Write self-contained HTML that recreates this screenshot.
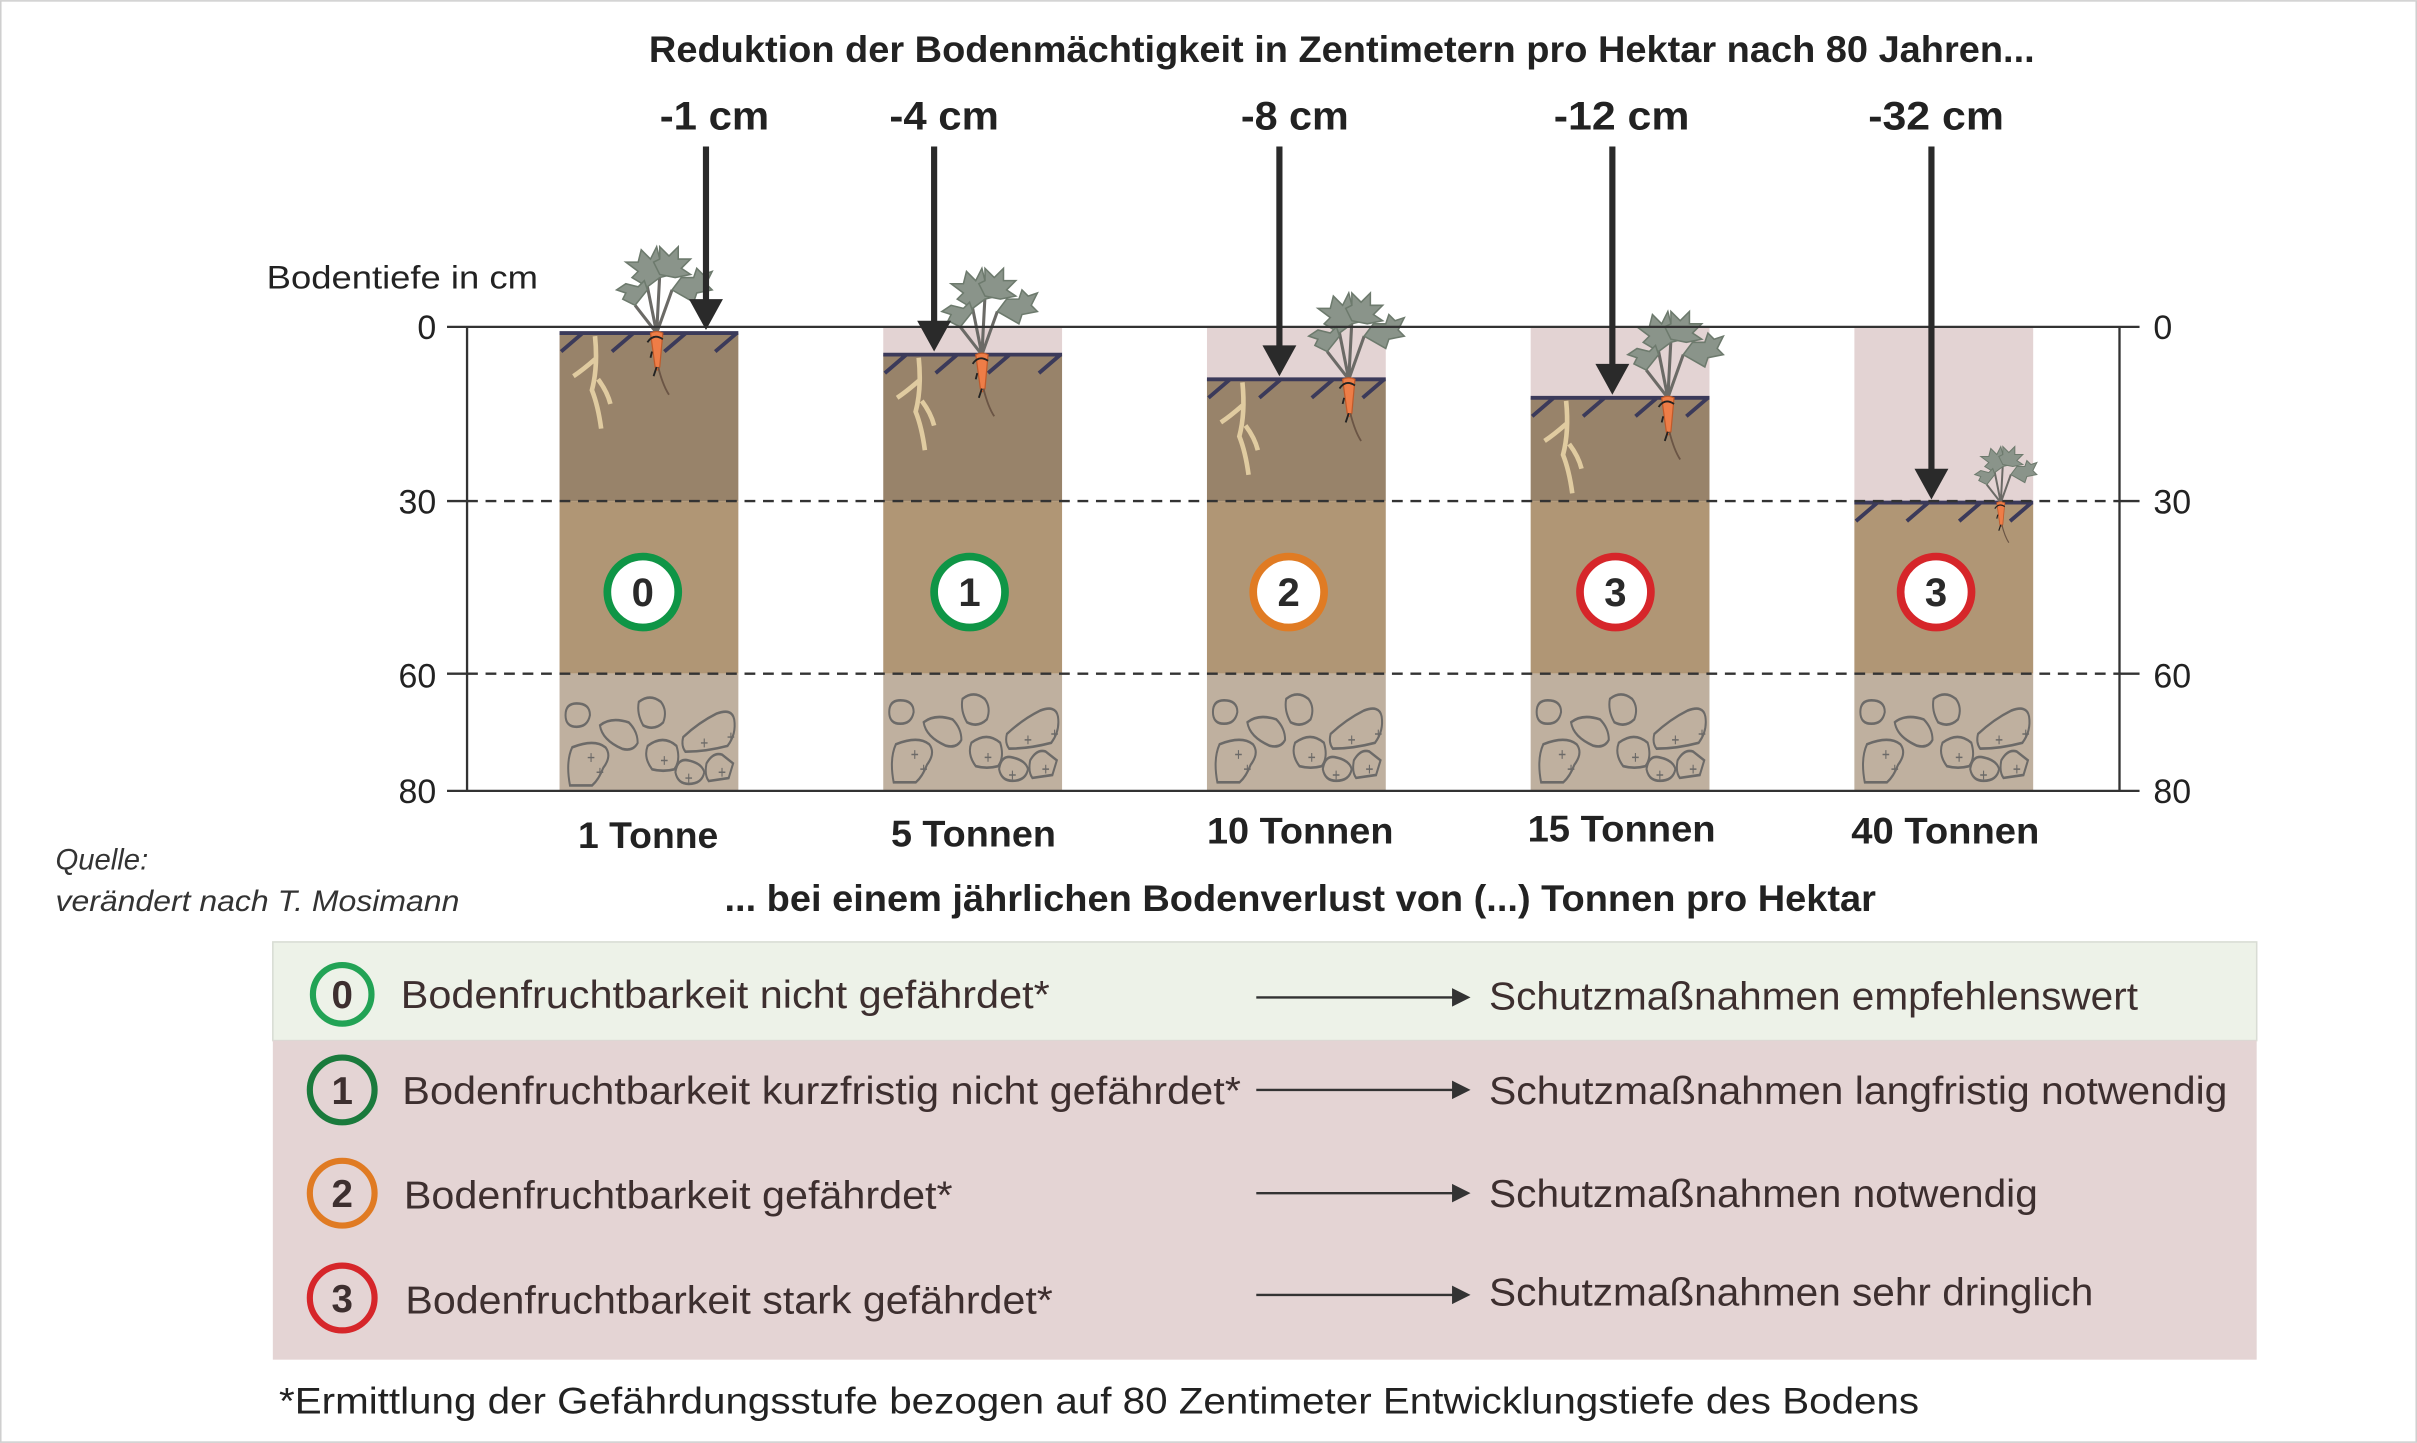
<!DOCTYPE html>
<html><head><meta charset="utf-8"><style>
html,body{margin:0;padding:0;background:#fff}
svg{display:block}
text{font-family:"Liberation Sans",sans-serif}
</style></head><body>
<svg width="2417" height="1443" viewBox="0 0 1568 936" xmlns="http://www.w3.org/2000/svg">
<defs>
<g id="plant">
 <path d="M0 0 L-6 -30 M0 0 L2 -38 M0 0 L10 -28 M0 0 L-14 -18" stroke="#6b6a66" stroke-width="2" fill="none"/>
 <g fill="#8a948a" stroke="#6d7a6d" stroke-width="1">
  <path d="M-6 -30 l-10 -6 l4 -4 l-8 -6 l8 0 l2 -8 l6 6 l4 -8 l2 8 l6 -2 l-4 8 l6 4 l-8 2z"/>
  <path d="M2 -38 l-4 -8 l4 -2 l0 -8 l6 6 l6 -6 l0 8 l8 0 l-6 6 l6 4 l-10 2z"/>
  <path d="M10 -28 l6 -8 l8 0 l2 -6 l4 4 l6 -2 l-4 8 l4 4 l-10 2 l-2 6z"/>
  <path d="M-14 -18 l-8 -4 l2 -4 l-6 -2 l6 -4 l8 2 l4 -4 l2 6z"/>
 </g>
 <path d="M-4 0 Q0 -2 4 0 L2 22 Q0 26 -1 22 Z" fill="#ee7d47" stroke="#c05a2a" stroke-width="0.8"/>
 <path d="M1 22 Q4 34 8 40" stroke="#6b5545" stroke-width="1.2" fill="none"/>
 <path d="M-6 6 q4 -6 10 -2 M-3 12 l-1 4 M0 22 l-2 6" stroke="#222" stroke-width="1.2" fill="none"/>
</g>
<g id="root">
 <path d="M0 0 Q2 20 -2 35 Q2 45 4 60 M0 15 Q-8 22 -14 26 M2 28 Q8 36 10 44" stroke="#e0cba0" stroke-width="3" fill="none"/>
</g>
<g id="rocks0" fill="none" stroke="#6c6a68" stroke-width="1.8">
 <path d="M4 23 q0 -8 10 -8 q12 0 12 8 q-2 8 -12 8 q-10 0 -10 -8z"/>
 <path d="M35 30 q10 -6 26 -2 q8 6 8 14 q-4 6 -14 4 q-18 -6 -20 -16z"/>
 <path d="M70 14 q10 -6 20 0 q6 6 2 14 q-8 6 -18 2 q-6 -8 -4 -16z"/>
 <path d="M110 38 q14 -10 30 -16 q14 -4 16 4 q2 10 -6 18 q-20 4 -38 4 q-4 -4 -2 -10z"/>
 <path d="M10 45 q20 -6 30 0 q6 6 -2 14 q-4 8 -10 12 l-20 0 q-4 -16 2 -26z"/>
 <path d="M78 44 q14 -8 26 0 q4 10 -2 16 q-10 2 -20 0 q-8 -8 -4 -16z"/>
 <path d="M103 62 q2 -10 12 -8 q12 2 14 8 q-2 8 -14 8 q-10 0 -12 -8z"/>
 <path d="M131 56 q6 -8 14 -6 l10 6 l-4 10 l-18 2 q-4 -4 -2 -12z"/>
 <path d="M24 52 h6 M27 49 v6 M32 62 h6 M35 59 v6 M90 54 h6 M93 51 v6 M126 42 h6 M129 39 v6 M150 38 h6 M153 35 v6 M112 66 h6 M115 63 v6 M142 62 h6 M145 59 v6" stroke-width="1"/>
</g>
<g id="rocks"><g transform="scale(0.72 0.95)"><use href="#rocks0"/></g></g>
</defs>

<rect x="0.5" y="0.5" width="1567" height="935" fill="#fff" stroke="#cfcfcf"/>

<text x="421" y="40" font-size="24" font-weight="bold" fill="#222" textLength="899" lengthAdjust="spacingAndGlyphs">Reduktion der Bodenmächtigkeit in Zentimetern pro Hektar nach 80 Jahren...</text>
<g font-size="26" font-weight="bold" fill="#222">
<text x="428" y="84" textLength="71" lengthAdjust="spacingAndGlyphs">-1 cm</text>
<text x="577" y="84" textLength="71" lengthAdjust="spacingAndGlyphs">-4 cm</text>
<text x="805" y="84" textLength="70" lengthAdjust="spacingAndGlyphs">-8 cm</text>
<text x="1008" y="84" textLength="88" lengthAdjust="spacingAndGlyphs">-12 cm</text>
<text x="1212" y="84" textLength="88" lengthAdjust="spacingAndGlyphs">-32 cm</text>
</g>
<text x="173" y="187" font-size="21" fill="#222" textLength="176" lengthAdjust="spacingAndGlyphs">Bodentiefe in cm</text>

<g>
<rect x="363" y="216" width="116" height="109" fill="#98836a"/>
<rect x="363" y="325" width="116" height="112" fill="#b09675"/>
<rect x="363" y="437" width="116" height="76" fill="#bfb09f"/>
</g>
<g>
<rect x="573" y="212" width="116" height="18" fill="#e3d3d3"/>
<rect x="573" y="230" width="116" height="95" fill="#98836a"/>
<rect x="573" y="325" width="116" height="112" fill="#b09675"/>
<rect x="573" y="437" width="116" height="76" fill="#bfb09f"/>
</g>
<g>
<rect x="783" y="212" width="116" height="34" fill="#e3d3d3"/>
<rect x="783" y="246" width="116" height="79" fill="#98836a"/>
<rect x="783" y="325" width="116" height="112" fill="#b09675"/>
<rect x="783" y="437" width="116" height="76" fill="#bfb09f"/>
</g>
<g>
<rect x="993" y="212" width="116" height="46" fill="#e3d3d3"/>
<rect x="993" y="258" width="116" height="67" fill="#98836a"/>
<rect x="993" y="325" width="116" height="112" fill="#b09675"/>
<rect x="993" y="437" width="116" height="76" fill="#bfb09f"/>
</g>
<g>
<rect x="1203" y="212" width="116" height="114" fill="#e3d3d3"/>
<rect x="1203" y="326" width="116" height="111" fill="#b09675"/>
<rect x="1203" y="437" width="116" height="76" fill="#bfb09f"/>
</g>

<g stroke="#3b3a5a" stroke-width="2.5" fill="none">
<path d="M363 216 H479 M378 216 l-14 12 M411 216 l-14 12 M445 216 l-14 12 M478 216 l-14 12"/>
<path d="M573 230 H689 M588 230 l-14 12 M621 230 l-14 12 M655 230 l-14 12 M688 230 l-14 12"/>
<path d="M783 246 H899 M798 246 l-14 12 M831 246 l-14 12 M865 246 l-14 12 M898 246 l-14 12"/>
<path d="M993 258 H1109 M1008 258 l-14 12 M1041 258 l-14 12 M1075 258 l-14 12 M1108 258 l-14 12"/>
<path d="M1203 326 H1319 M1218 326 l-14 12 M1251 326 l-14 12 M1285 326 l-14 12 M1318 326 l-14 12"/>
</g>
<use href="#root" x="386" y="218"/>
<use href="#root" x="596" y="232"/>
<use href="#root" x="806" y="248"/>
<use href="#root" x="1016" y="260"/>
<use href="#plant" x="426" y="216"/>
<use href="#plant" x="637" y="230"/>
<use href="#plant" x="875" y="246"/>
<use href="#plant" x="1082" y="258"/>
<g transform="translate(1298 326) scale(0.65)"><use href="#plant"/></g>

<use href="#rocks" x="364" y="442"/>
<use href="#rocks" x="574" y="440"/>
<use href="#rocks" x="784" y="440"/>
<use href="#rocks" x="994" y="440"/>
<use href="#rocks" x="1204" y="440"/>

<g stroke="#333" stroke-width="1.5" fill="none">
<path d="M290 212 H1388 M290 513 H1388 M303 212 V513 M1375 212 V513 M290 325 H303 M290 437 H303 M1375 325 H1388 M1375 437 H1388"/>
</g>
<g stroke="#333" stroke-width="1.5" stroke-dasharray="7,5">
<path d="M303 325 H1375 M303 437 H1375"/>
</g>
<g font-size="22" fill="#222">
<text x="283" y="220" text-anchor="end">0</text>
<text x="283" y="333" text-anchor="end">30</text>
<text x="283" y="446" text-anchor="end">60</text>
<text x="283" y="521" text-anchor="end">80</text>
<text x="1397" y="220">0</text>
<text x="1397" y="333">30</text>
<text x="1397" y="446">60</text>
<text x="1397" y="521">80</text>
</g>

<g stroke="#2a2a2a" stroke-width="4">
<path d="M458 95 V198"/><path d="M606 95 V212"/><path d="M830 95 V228"/><path d="M1046 95 V240"/><path d="M1253 95 V308"/>
</g>
<g fill="#2a2a2a">
<path d="M447 194 h22 l-11 20z"/><path d="M595 208 h22 l-11 20z"/><path d="M819 224 h22 l-11 20z"/><path d="M1035 236 h22 l-11 20z"/><path d="M1242 304 h22 l-11 20z"/>
</g>

<g font-size="26" font-weight="bold" fill="#2a2a2a" text-anchor="middle" stroke-width="5">
<circle cx="417" cy="384" r="23" fill="#fff" stroke="#0f9546"/><text x="417" y="393">0</text>
<circle cx="629" cy="384" r="23" fill="#fff" stroke="#0f9546"/><text x="629" y="393">1</text>
<circle cx="836" cy="384" r="23" fill="#fff" stroke="#e07b23"/><text x="836" y="393">2</text>
<circle cx="1048" cy="384" r="23" fill="#fff" stroke="#d6262a"/><text x="1048" y="393">3</text>
<circle cx="1256" cy="384" r="23" fill="#fff" stroke="#d6262a"/><text x="1256" y="393">3</text>
</g>

<g font-size="24" font-weight="bold" fill="#222">
<text x="375" y="550" textLength="91" lengthAdjust="spacingAndGlyphs">1 Tonne</text>
<text x="578" y="549" textLength="107" lengthAdjust="spacingAndGlyphs">5 Tonnen</text>
<text x="783" y="547" textLength="121" lengthAdjust="spacingAndGlyphs">10 Tonnen</text>
<text x="991" y="546" textLength="122" lengthAdjust="spacingAndGlyphs">15 Tonnen</text>
<text x="1201" y="547" textLength="122" lengthAdjust="spacingAndGlyphs">40 Tonnen</text>
</g>
<text x="470" y="591" font-size="24" font-weight="bold" fill="#222" textLength="747" lengthAdjust="spacingAndGlyphs">... bei einem jährlichen Bodenverlust von (...) Tonnen pro Hektar</text>
<g font-size="19" font-style="italic" fill="#333">
<text x="36" y="564">Quelle:</text>
<text x="36" y="591" textLength="262" lengthAdjust="spacingAndGlyphs">verändert nach T. Mosimann</text>
</g>

<rect x="177" y="611" width="1287" height="64" fill="#edf2e8" stroke="#d8dcd4"/>
<rect x="177" y="675" width="1287" height="207" fill="#e4d4d4"/>
<g font-size="25" fill="#3d2f2f" stroke-width="4" text-anchor="middle" font-weight="bold">
<circle cx="222" cy="645" r="19" fill="none" stroke="#22a355"/><text x="222" y="654">0</text>
<circle cx="222" cy="707" r="21" fill="none" stroke="#1a7a3c"/><text x="222" y="716">1</text>
<circle cx="222" cy="774" r="21" fill="none" stroke="#e07b23"/><text x="222" y="783">2</text>
<circle cx="222" cy="842" r="21" fill="none" stroke="#d6262a"/><text x="222" y="851">3</text>
</g>
<g font-size="25" fill="#3d2f2f">
<text x="260" y="654" textLength="421" lengthAdjust="spacingAndGlyphs">Bodenfruchtbarkeit nicht gefährdet*</text>
<text x="261" y="716" textLength="544" lengthAdjust="spacingAndGlyphs">Bodenfruchtbarkeit kurzfristig nicht gefährdet*</text>
<text x="262" y="784" textLength="356" lengthAdjust="spacingAndGlyphs">Bodenfruchtbarkeit gefährdet*</text>
<text x="263" y="852" textLength="420" lengthAdjust="spacingAndGlyphs">Bodenfruchtbarkeit stark gefährdet*</text>
<text x="966" y="655" textLength="421" lengthAdjust="spacingAndGlyphs">Schutzmaßnahmen empfehlenswert</text>
<text x="966" y="716" textLength="479" lengthAdjust="spacingAndGlyphs">Schutzmaßnahmen langfristig notwendig</text>
<text x="966" y="783" textLength="356" lengthAdjust="spacingAndGlyphs">Schutzmaßnahmen notwendig</text>
<text x="966" y="847" textLength="392" lengthAdjust="spacingAndGlyphs">Schutzmaßnahmen sehr dringlich</text>
</g>
<g stroke="#333" stroke-width="1.5"><path d="M815 647 H944 M815 707 H944 M815 774 H944 M815 840 H944"/></g>
<g fill="#333"><path d="M942 641 l12 6 l-12 6z M942 701 l12 6 l-12 6z M942 768 l12 6 l-12 6z M942 834 l12 6 l-12 6z"/></g>
<text x="181" y="917" font-size="24" fill="#222" textLength="1064" lengthAdjust="spacingAndGlyphs">*Ermittlung der Gefährdungsstufe bezogen auf 80 Zentimeter Entwicklungstiefe des Bodens</text>
</svg>
</body></html>
